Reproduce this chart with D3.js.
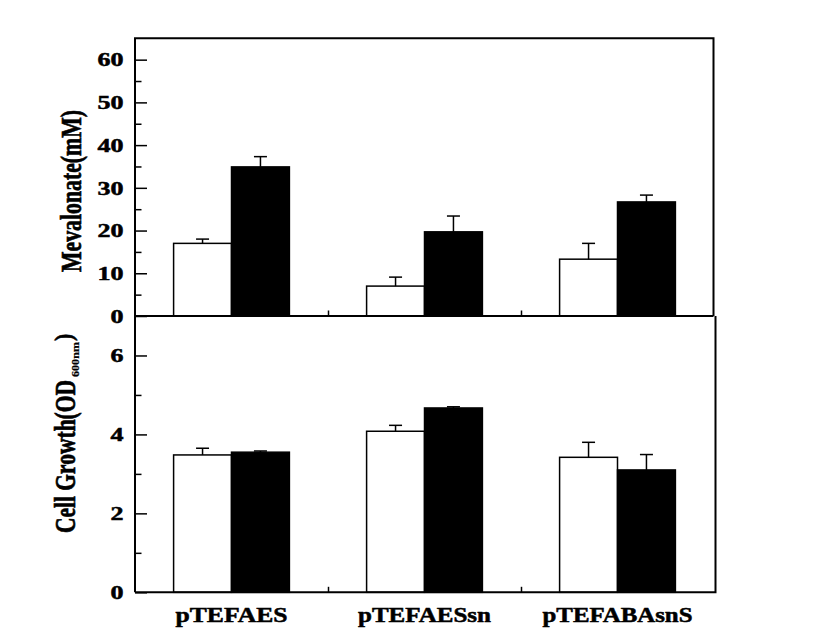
<!DOCTYPE html>
<html><head><meta charset="utf-8">
<script src="https://cdn.jsdelivr.net/npm/d3@7"></script>
<style>
body{margin:0;background:#fff}
svg{display:block;background:#fff}
text{font-family:"Liberation Serif","Times New Roman",Tinos,serif;font-weight:bold;fill:#000;stroke:#000;stroke-width:0.5px}
</style>
</head><body><svg id="c" width="816" height="642"></svg>
<script>
const categories = ["pTEFAES", "pTEFAESsn", "pTEFABAsnS"];
const series = ["open", "filled"];
const mevalonateOpen = [17.0, 7.0, 13.3];
const mevalonateOpenErr = [1.0, 2.1, 3.7];
const mevalonateFilled = [34.9, 19.7, 26.7];
const mevalonateFilledErr = [2.4, 3.7, 1.6];
const growthOpen = [3.48, 4.08, 3.42];
const growthOpenErr = [0.17, 0.15, 0.38];
const growthFilled = [3.55, 4.67, 3.10];
const growthFilledErr = [0.03, 0.03, 0.39];
const mevMajorTicks = [0, 10, 20, 30, 40, 50, 60];
const mevMinorTicks = [5, 15, 25, 35, 45, 55];
const growthMajorTicks = [0, 2, 4, 6];
const growthMinorTicks = [1, 3, 5];

// label widths (styling)
const categoryLabelWidths = [112, 133, 150];
const digitWidth = 13;

const svg = d3.select("#c");
const L = 135, R = 714, Rtop = 713.5, Rbot = 715.5;
const topY0 = 316, topY1 = 38.3, botY0 = 592.3, botY1 = 316;

const x0 = d3.scaleBand().domain(categories).range([L, R]).padding(0);
const bw = x0.bandwidth();
const x1 = d3.scaleBand().domain(series).range([bw * 0.2, bw * 0.8]).padding(0);
const xb = d3.scaleLinear().domain([0, categories.length]).range([L, R]);

const yTop = d3.scaleLinear().domain([0, 65]).range([topY0, topY1]);
const yBot = d3.scaleLinear().domain([0, 7]).range([botY0, botY1]);

function panel(y, openV, openE, fillV, fillE, major, minor, y0) {
  const g = svg.append("g");
  const rows = categories.map((c, i) => [
    {c, s: "open", v: openV[i], e: openE[i]},
    {c, s: "filled", v: fillV[i], e: fillE[i]}
  ]).flat();
  g.selectAll("rect.bar").data(rows).join("rect")
    .attr("class", "bar")
    .attr("x", d => x0(d.c) + x1(d.s))
    .attr("width", x1.bandwidth())
    .attr("y", d => y(d.v))
    .attr("height", d => y(0) - y(d.v))
    .attr("fill", d => d.s === "open" ? "#fff" : "#000")
    .attr("stroke", "#000").attr("stroke-width", 1.5);
  const cx = d => x0(d.c) + x1(d.s) + x1.bandwidth() / 2;
  g.selectAll("line.err").data(rows).join("line")
    .attr("x1", cx).attr("x2", cx)
    .attr("y1", d => y(d.v)).attr("y2", d => y(d.v + d.e))
    .attr("stroke", "#000").attr("stroke-width", 1.5);
  g.selectAll("line.cap").data(rows).join("line")
    .attr("x1", d => cx(d) - 6.5).attr("x2", d => cx(d) + 6.5)
    .attr("y1", d => y(d.v + d.e)).attr("y2", d => y(d.v + d.e))
    .attr("stroke", "#000").attr("stroke-width", 1.5);
  const ax = g.append("g").attr("transform", `translate(${L},0)`)
    .call(d3.axisLeft(y).tickValues(major).tickSize(-12).tickPadding(0).tickFormat(d3.format("d")));
  ax.attr("font-family", null).attr("font-size", null);
  ax.select(".domain").remove();
  ax.selectAll(".tick line").attr("stroke-width", 1.5);
  ax.selectAll("text").attr("x", -11.5).attr("dy", "0.34em").attr("font-size", 18.5)
    .attr("textLength", d => String(d).length * digitWidth)
    .attr("lengthAdjust", "spacingAndGlyphs");
  const axm = g.append("g").attr("transform", `translate(${L},0)`)
    .call(d3.axisLeft(y).tickValues(minor).tickSize(-6.5).tickFormat(""));
  axm.select(".domain").remove();
  axm.selectAll(".tick line").attr("stroke-width", 1.5);
  const axx = g.append("g").attr("transform", `translate(0,${y0})`)
    .call(d3.axisBottom(xb).tickValues([1, 2]).tickSize(-5.5).tickFormat(""));
  axx.select(".domain").remove();
  axx.selectAll(".tick line").attr("stroke-width", 1.5);
  return g;
}

panel(yTop, mevalonateOpen, mevalonateOpenErr, mevalonateFilled, mevalonateFilledErr, mevMajorTicks, mevMinorTicks, topY0);
panel(yBot, growthOpen, growthOpenErr, growthFilled, growthFilledErr, growthMajorTicks, growthMinorTicks, botY0);

const frame = svg.append("g").attr("stroke", "#000").attr("stroke-width", 2).attr("fill", "none");
frame.append("path").attr("d", `M${L},${botY0}V${topY1}H${Rtop}V${topY0}`);
frame.append("path").attr("d", `M${L},${topY0}H${Rtop}`);
frame.append("path").attr("d", `M${L},${botY0}H${Rbot}V${botY1}`);

svg.append("g").selectAll("text").data(categories).join("text")
  .attr("x", d => x0(d) + bw / 2).attr("y", 621.7)
  .attr("text-anchor", "middle").attr("font-size", 20.5)
  .attr("textLength", (d, i) => categoryLabelWidths[i])
  .attr("lengthAdjust", "spacingAndGlyphs")
  .text(d => d);

svg.append("text")
  .attr("transform", `translate(81,191) scale(1.3,1) rotate(-90)`)
  .attr("text-anchor", "middle").attr("font-size", 22)
  .attr("textLength", 162).attr("lengthAdjust", "spacingAndGlyphs")
  .text("Mevalonate(mM)");

svg.append("text")
  .attr("transform", `translate(75,533) scale(1.3,1) rotate(-90)`)
  .attr("font-size", 22).attr("textLength", 153).attr("lengthAdjust", "spacingAndGlyphs")
  .text("Cell Growth(OD");
svg.append("text")
  .attr("transform", `translate(78.5,377) scale(0.8,1) rotate(-90)`)
  .attr("font-size", 12).attr("textLength", 35).attr("lengthAdjust", "spacingAndGlyphs")
  .style("stroke-width", "0.25px")
  .text("600nm");
svg.append("text")
  .attr("transform", `translate(72,341) scale(1.1,1) rotate(-90)`)
  .attr("font-size", 22).text(")");
</script>
</body></html>
